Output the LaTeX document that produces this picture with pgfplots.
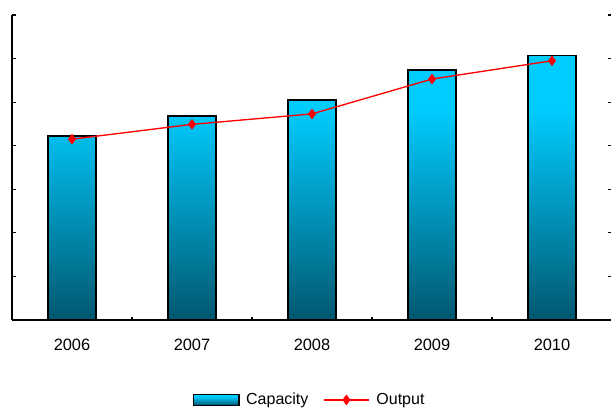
\documentclass[border=0pt]{standalone}
\usepackage{pgfplots}
\pgfplotsset{compat=1.18}
\usepackage{fontspec}
\setmainfont{Liberation Sans}
\definecolor{barTop}{HTML}{00CCFF}
\definecolor{barMid}{HTML}{0092B8}
\definecolor{barBot}{HTML}{005870}
\definecolor{outRed}{HTML}{FF0000}
\pgfdeclareverticalshading{barshade}{100bp}{color(0bp)=(barBot); color(25bp)=(barBot);
  color(45bp)=(barMid); color(65bp)=(barTop); color(100bp)=(barTop)}
\pgfplotsset{
  barlegend/.style={legend image code/.code={\draw[##1] (0pt,-4pt) rectangle (34pt,4pt);}},
  linelegend/.style={legend image code/.code={\draw[##1] (0pt,0pt) -- (34pt,0pt);
    \draw[##1] plot coordinates {(17pt,0pt)};}},
}

\begin{document}
\begin{tikzpicture}
\begin{axis}[
  name=ax,
  at={(0,0)}, anchor=south west,
  scale only axis,
  width=450pt, height=228.75pt,
  xmin=-0.5, xmax=4.5,
  ymin=0, ymax=7,
  axis x line*=bottom,
  axis y line*=left,
  axis line style={black, line width=1pt},
  tick align=inside,
  ytick={0,...,7},
  yticklabels={},
  major tick length=3pt,
  tick style={black, line width=0.8pt},
  xtick={0,...,4},
  xticklabels={2006,2007,2008,2009,2010},
  major x tick style={draw=none},
  minor xtick={0.5,1.5,2.5,3.5},
  minor tick length=2pt,
  xticklabel style={font=\fontsize{12.3}{14}\selectfont, yshift=-11pt},
  /pgf/number format/assume math mode=true,
  legend style={at={(0.5,-0.262)}, anchor=center, draw=none, fill=none,
    font=\fontsize{12}{14}\selectfont, legend columns=2,
    nodes={inner xsep=5pt},
    /tikz/every even column/.append style={column sep=6pt}},
]
\addplot[ybar, bar width=0.4, draw=black, line width=1pt,
  shading=barshade, barlegend]
  coordinates {(0,4.22) (1,4.68) (2,5.05) (3,5.74) (4,6.07)};
\addlegendentry{Capacity}
\addplot[outRed, line width=1pt, mark=diamond*, mark size=3.2pt,
  mark options={fill=outRed, draw=outRed}, linelegend]
  coordinates {(0,4.15) (1,4.49) (2,4.73) (3,5.53) (4,5.95)};
\addlegendentry{Output}
\end{axis}
\begin{axis}[
  at={(0,0)}, anchor=south west,
  scale only axis,
  width=450pt, height=228.75pt,
  xmin=-0.5, xmax=4.5,
  ymin=0, ymax=7,
  hide x axis,
  axis y line*=right,
  y axis line style={draw=none},
  tick align=inside,
  ytick={1,...,7},
  yticklabels={},
  major tick length=3pt,
  tick style={black, line width=0.8pt},
]
\addplot[draw=none] coordinates {(0,0)};
\end{axis}
\pgfresetboundingbox
\useasboundingbox (-9pt,-67.5pt) rectangle (449.25pt,240pt);
\end{tikzpicture}
\end{document}
